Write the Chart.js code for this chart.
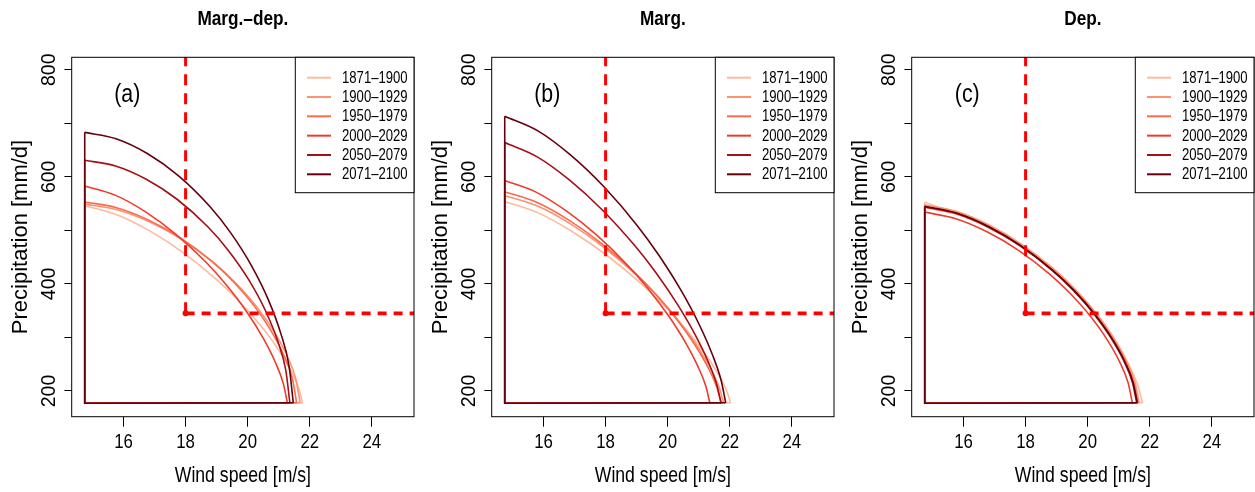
<!DOCTYPE html>
<html>
<head>
<meta charset="utf-8">
<script src="https://cdn.jsdelivr.net/npm/chart.js@4.4.1/dist/chart.umd.min.js"></script>
<style>
html,body{margin:0;padding:0;background:#fff;overflow:hidden;width:1255px;height:492px}
#wrap{position:relative;width:1255px;height:492px;overflow:hidden;background:#fff}
canvas{position:absolute;top:0}
</style>
</head>
<body>
<div id="wrap">
<canvas id="p0" width="420" height="492" style="left:0px"></canvas>
<canvas id="p1" width="420" height="492" style="left:420px"></canvas>
<canvas id="p2" width="420" height="492" style="left:840px"></canvas>
</div>
<script>
// ---------------- data ----------------
const PANEL_TITLES = ['Marg.–dep.', 'Marg.', 'Dep.'];
const PANEL_TAGS = ['(a)', '(b)', '(c)'];
const SERIES_LABELS = ['1871–1900', '1900–1929', '1950–1979', '2000–2029', '2050–2079', '2071–2100'];
const SERIES_COLORS = ['#FCBBA1', '#FC9272', '#FB6A4A', '#EF3B2C', '#A50F15', '#67000D'];
const X_TICKS = [16, 18, 20, 22, 24];
const Y_TICKS = [200, 300, 400, 500, 600, 700, 800];
const Y_TICK_LABELS = ['200', '', '400', '', '600', '', '800'];
const X_TITLE = 'Wind speed [m/s]';
const Y_TITLE = 'Precipitation [mm/d]';
const WIND_THRESHOLD = 18;
const PRECIP_THRESHOLD = 345;
const BASE_WIND = 14.75;
const BASE_PRECIP = 177;

// upper boundary curves [wind, precipitation], one list per period
const ARCS_MARG_DEP = [
  [[14.75,546],[15.803,528.7],[16.856,498.5],[17.909,459.0],[18.962,410.0],[19.664,371.3],[20.366,325.9],[20.928,282.6],[21.349,242.6],[21.63,207.7],[21.77,178]],
  [[14.75,549],[15.791,538.5],[16.832,516.0],[17.873,483.2],[18.914,439.1],[19.608,402.1],[20.302,356.5],[20.857,310.4],[21.274,265.4],[21.551,222.4],[21.69,178]],
  [[14.75,553],[15.775,542.4],[16.799,519.6],[17.824,486.4],[18.848,441.9],[19.531,404.5],[20.214,358.5],[20.76,311.9],[21.17,266.3],[21.443,222.9],[21.58,178]],
  [[14.75,583],[15.73,565.8],[16.709,534.6],[17.689,492.7],[18.668,439.9],[19.321,397.6],[19.974,347.6],[20.496,299.2],[20.888,254.1],[21.149,213.8],[21.28,178]],
  [[14.75,631],[15.742,620.3],[16.733,595.5],[17.725,558.1],[18.716,506.7],[19.377,462.6],[20.038,407.5],[20.567,350.8],[20.963,294.2],[21.228,238.9],[21.36,178]],
  [[14.75,683],[15.758,671.1],[16.766,643.5],[17.774,601.8],[18.782,544.5],[19.454,495.3],[20.126,433.8],[20.664,370.7],[21.067,307.6],[21.336,246.0],[21.47,178]]
];
const ARCS_MARG = [
  [[14.75,554],[15.842,532.2],[16.934,497.5],[18.026,454.0],[19.118,402.0],[19.846,361.9],[20.574,316.0],[21.156,273.3],[21.593,235.2],[21.884,202.9],[22.03,178]],
  [[14.75,565],[15.808,545.3],[16.865,512.2],[17.923,469.4],[18.98,417.2],[19.685,376.2],[20.39,328.6],[20.954,283.6],[21.377,242.6],[21.659,207.1],[21.8,178]],
  [[14.75,572],[15.796,552.0],[16.841,518.2],[17.887,474.7],[18.932,421.5],[19.629,379.8],[20.326,331.3],[20.884,285.5],[21.302,243.8],[21.581,207.7],[21.72,178]],
  [[14.75,593],[15.742,571.9],[16.733,536.3],[17.725,490.5],[18.716,434.5],[19.377,390.5],[20.038,339.5],[20.567,291.3],[20.963,247.3],[21.228,209.3],[21.36,178]],
  [[14.75,664],[15.796,637.3],[16.841,593.8],[17.887,538.6],[18.932,472.0],[19.629,420.4],[20.326,360.8],[20.884,305.2],[21.302,255.0],[21.581,212.2],[21.72,178]],
  [[14.75,713],[15.818,685.8],[16.886,640.0],[17.954,580.9],[19.022,508.8],[19.734,452.1],[20.446,386.4],[21.016,324.2],[21.443,267.6],[21.728,218.6],[21.87,178]]
];
const ARCS_DEP = [
  [[14.75,553],[15.4,538],[16.0,526],[16.85,505],[17.9,470],[18.9,425],[19.6,388],[20.3,343],[20.85,298],[21.3,252],[21.6,213],[21.77,178]],
  [[14.75,548],[15.787,535.2],[16.823,509.9],[17.86,474.4],[18.896,428.4],[19.587,390.5],[20.278,344.8],[20.831,299.6],[21.245,256.3],[21.522,216.3],[21.66,178]],
  [[14.75,543],[15.781,530.4],[16.811,505.4],[17.842,470.4],[18.872,425.0],[19.559,387.6],[20.246,342.5],[20.796,297.9],[21.208,255.3],[21.483,215.8],[21.62,178]],
  [[14.75,534],[15.754,521.7],[16.757,497.3],[17.761,463.2],[18.764,418.9],[19.433,382.5],[20.102,338.5],[20.637,295.0],[21.039,253.3],[21.306,214.8],[21.44,178]],
  [[14.75,544],[15.775,531.4],[16.799,506.3],[17.824,471.2],[18.848,425.6],[19.531,388.2],[20.214,343.0],[20.76,298.3],[21.17,255.5],[21.443,215.9],[21.58,178]],
  [[14.75,545],[15.778,532.3],[16.805,507.2],[17.833,472.0],[18.86,426.3],[19.545,388.8],[20.23,343.4],[20.778,298.6],[21.189,255.7],[21.463,216.0],[21.6,178]]
];
const PANEL_ARCS = [ARCS_MARG_DEP, ARCS_MARG, ARCS_DEP];

// ---------------- layout / style ----------------
const X_MIN = 14.33, X_MAX = 25.36, Y_MIN = 152, Y_MAX = 823.2;
const PLOT_LEFT = 71.7, PLOT_RIGHT_PAD = 6, PLOT_TOP = 57.3, AXIS_X_HEIGHT = 75.3;
const TAG_POS = {x: 16.12, y: 740};
const SQUEEZE = 0.82;   // horizontal text is drawn condensed, as in the original figure

const FAM = '"Liberation Sans", Arial, sans-serif';
const HS = {title: 21, xtick: 20.5, xtitle: 21.5, legend: 16, tag: 26};
const YTICK_SIZE = 19.5, YTITLE_SIZE = 22;

const mctx = document.createElement('canvas').getContext('2d');
mctx.font = YTICK_SIZE + 'px ' + FAM;
const widestY = mctx.measureText('800').width;
const yTickPad = PLOT_LEFT - 7.3 - widestY / 2 - 49.6;

const titleMid = 26.7 - 0.3465 * HS.title;
const titlePadTop = titleMid - 0.6 * HS.title;
const titlePadBottom = PLOT_TOP - titlePadTop - 1.2 * HS.title;
const xTitleMid = 483.3 - 0.3465 * HS.xtitle;
const xTitlePadBottom = 492 - xTitleMid - 0.6 * HS.xtitle;
const xTickPad = 442.3 - (492 - AXIS_X_HEIGHT) - 10 - 0.6 * HS.xtick;
const yTitlePadTop = (28.3 - 0.3465 * YTITLE_SIZE) - 0.6 * YTITLE_SIZE;

const pts = arr => arr.map(p => ({x: p[0], y: p[1]}));

const squeezeText = {
  id: 'squeezeText',
  beforeInit(chart) {
    const ctx = chart.ctx;
    const orig = CanvasRenderingContext2D.prototype.fillText;
    ctx.fillText = function (t, x, y, mw) {
      const m = this.getTransform();
      if (Math.abs(m.b) > 1e-6 || Math.abs(m.c) > 1e-6) {
        return mw === undefined ? orig.call(this, t, x, y) : orig.call(this, t, x, y, mw);
      }
      this.save();
      this.translate(x, y);
      this.scale(SQUEEZE, 1);
      if (mw === undefined) orig.call(this, t, 0, 0); else orig.call(this, t, 0, 0, mw / SQUEEZE);
      this.restore();
    };
  }
};

const panelDecor = {
  id: 'panelDecor',
  afterDraw(chart, args, opts) {
    const {ctx, chartArea: ca, scales: {x, y}} = chart;
    ctx.save();
    ctx.strokeStyle = '#000';
    ctx.lineWidth = 1;
    ctx.strokeRect(ca.left, ca.top, ca.right - ca.left, ca.bottom - ca.top);
    ctx.fillStyle = '#000';
    ctx.font = HS.tag + 'px ' + FAM;
    ctx.textAlign = 'center';
    ctx.textBaseline = 'alphabetic';
    ctx.fillText(opts.tag, x.getPixelForValue(TAG_POS.x), y.getPixelForValue(TAG_POS.y));
    const w = 118.7, h = 135.4;
    const lx = ca.right - w, ly = ca.top;
    ctx.fillStyle = '#fff';
    ctx.fillRect(lx, ly, w, h);
    ctx.strokeStyle = '#000';
    ctx.lineWidth = 1;
    ctx.strokeRect(lx, ly, w, h);
    ctx.font = HS.legend + 'px ' + FAM;
    ctx.textAlign = 'left';
    ctx.textBaseline = 'middle';
    SERIES_LABELS.forEach((lab, i) => {
      const ry = ly + 20.4 + i * 19.32;
      ctx.strokeStyle = SERIES_COLORS[i];
      ctx.lineWidth = 2;
      ctx.beginPath();
      ctx.moveTo(lx + 11.7, ry);
      ctx.lineTo(lx + 35.7, ry);
      ctx.stroke();
      ctx.fillStyle = '#000';
      ctx.fillText(lab, lx + 46.7, ry + 0.5);
    });
    ctx.restore();
  }
};

function makePanel(idx) {
  const arcs = PANEL_ARCS[idx];
  const datasets = [];
  datasets.push({data: pts([[WIND_THRESHOLD, PRECIP_THRESHOLD], [WIND_THRESHOLD, 2000]]),
    borderColor: '#FF0000', borderWidth: 3, borderDash: [11, 8], pointRadius: 0, order: -2, clip: 0, tension: 0});
  datasets.push({data: pts([[WIND_THRESHOLD, PRECIP_THRESHOLD], [100, PRECIP_THRESHOLD]]),
    borderColor: '#FF0000', borderWidth: 3.6, borderDash: [9, 7], pointRadius: 0, order: -2, clip: 0, tension: 0});
  datasets.push({data: pts([[WIND_THRESHOLD, PRECIP_THRESHOLD]]), showLine: false,
    pointRadius: 3, pointBackgroundColor: '#FF0000', pointBorderWidth: 0, order: -3});
  arcs.forEach((arc, i) => {
    const first = arc[0], last = arc[arc.length - 1];
    const ord = 20 - i * 2;
    datasets.push({label: SERIES_LABELS[i], data: pts(arc), borderColor: SERIES_COLORS[i], borderWidth: 1.6,
      pointRadius: 0, cubicInterpolationMode: 'monotone', order: ord, fill: false});
    datasets.push({data: pts([last, [BASE_WIND, BASE_PRECIP], [BASE_WIND, first[1]]]), borderColor: SERIES_COLORS[i],
      borderWidth: 1.6, pointRadius: 0, tension: 0, order: ord + 1, fill: false});
  });

  new Chart(document.getElementById('p' + idx), {
    type: 'line',
    data: {datasets},
    plugins: [squeezeText, panelDecor],
    options: {
      responsive: false, animation: false, devicePixelRatio: 1, events: [],
      layout: {padding: {left: 0, right: PLOT_RIGHT_PAD, top: 0, bottom: 0}},
      plugins: {
        legend: {display: false},
        tooltip: {enabled: false},
        title: {display: true, text: PANEL_TITLES[idx], fullSize: false, color: '#000',
          font: {family: FAM, size: HS.title, weight: 'bold'},
          padding: {top: titlePadTop, bottom: titlePadBottom}},
        panelDecor: {tag: PANEL_TAGS[idx]}
      },
      scales: {
        x: {
          type: 'linear', min: X_MIN, max: X_MAX,
          afterBuildTicks: s => { s.ticks = X_TICKS.map(v => ({value: v})); },
          afterFit: s => { s.height = AXIS_X_HEIGHT; },
          ticks: {autoSkip: false, maxRotation: 0, minRotation: 0, padding: xTickPad, color: '#000',
            font: {family: FAM, size: HS.xtick}, callback: v => String(v)},
          grid: {display: true, drawOnChartArea: false, drawTicks: true, tickLength: 10, color: '#000', tickColor: '#000', tickWidth: 1},
          border: {display: false},
          title: {display: true, text: X_TITLE, color: '#000', font: {family: FAM, size: HS.xtitle},
            padding: {top: 0, bottom: xTitlePadBottom}}
        },
        y: {
          type: 'linear', min: Y_MIN, max: Y_MAX,
          afterBuildTicks: s => { s.ticks = Y_TICKS.map(v => ({value: v})); },
          afterFit: s => { s.width = PLOT_LEFT; },
          ticks: {autoSkip: false, minRotation: 90, maxRotation: 90, crossAlign: 'center', padding: yTickPad, color: '#000',
            font: {family: FAM, size: YTICK_SIZE}, callback: v => Y_TICK_LABELS[Y_TICKS.indexOf(v)]},
          grid: {display: true, drawOnChartArea: false, drawTicks: true, tickLength: 7.3, color: '#000', tickColor: '#000', tickWidth: 1},
          border: {display: false},
          title: {display: true, text: Y_TITLE, color: '#000', font: {family: FAM, size: YTITLE_SIZE},
            padding: {top: yTitlePadTop, bottom: 0}}
        }
      }
    }
  });
}
[0, 1, 2].forEach(makePanel);
</script>
</body>
</html>
